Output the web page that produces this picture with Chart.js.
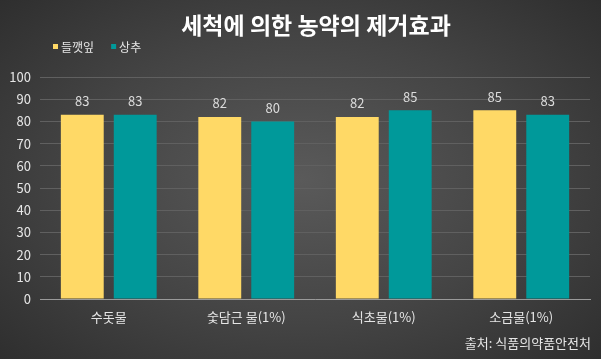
<!DOCTYPE html>
<html><head><meta charset="utf-8">
<script src="https://cdn.jsdelivr.net/npm/chart.js@4"></script>
<style>
html,body{margin:0;padding:0;width:601px;height:359px;overflow:hidden;}
body{background:radial-gradient(ellipse 75% 80% at 50% 50%, #5a5a5a 0%, #444 50%, #2a2a2a 100%);}
#wrap{position:relative;width:601px;height:359px;}
</style></head>
<body><div id="wrap"><canvas id="c" width="601" height="359"></canvas></div>
<script>
const categories = ['수돗물', '숯담근 물(1%)', '식초물(1%)', '소금물(1%)'];
const seriesNames = ['들깻잎', '상추'];
const perillaValues = [83, 82, 82, 85];
const lettuceValues = [83, 80, 85, 83];
const yTicks = [0, 10, 20, 30, 40, 50, 60, 70, 80, 90, 100];
const titleText = '세척에 의한 농약의 제거효과';
const sourceText = '출처: 식품의약품안전처';

const FONT = "'Noto Sans CJK KR', 'Noto Sans', sans-serif";
const colors = ['#FFD966', '#00999A'];

const decor = {
  id: 'decor',
  afterDatasetsDraw(chart) {
    const ctx = chart.ctx;
    ctx.save();
    // data labels
    ctx.fillStyle = '#dcdcdc';
    ctx.font = '13px ' + FONT;
    ctx.textAlign = 'center';
    ctx.textBaseline = 'bottom';
    chart.data.datasets.forEach((ds, i) => {
      chart.getDatasetMeta(i).data.forEach((bar, j) => {
        ctx.fillText(String(ds.data[j]), bar.x, bar.y - 7);
      });
    });
    // title
    ctx.fillStyle = '#ffffff';
    ctx.font = 'bold 23px ' + FONT;
    ctx.textBaseline = 'middle';
    ctx.fillText(titleText, 316, 25);
    // legend
    ctx.font = '12px ' + FONT;
    ctx.textAlign = 'left';
    let x = 53;
    chart.data.datasets.forEach((ds, i) => {
      ctx.fillStyle = ds.backgroundColor;
      ctx.fillRect(x, 44, 5, 5);
      ctx.fillStyle = '#e6e6e6';
      ctx.fillText(ds.label, x + 8, 47);
      x += 8 + ctx.measureText(ds.label).width + 17;
    });
    // source
    ctx.font = '13px ' + FONT;
    ctx.textAlign = 'right';
    ctx.fillStyle = '#e6e6e6';
    ctx.fillText(sourceText, 591, 343);
    ctx.restore();
  }
};

new Chart(document.getElementById('c'), {
  type: 'bar',
  data: {
    labels: categories,
    datasets: [
      { label: seriesNames[0], data: perillaValues, backgroundColor: colors[0] },
      { label: seriesNames[1], data: lettuceValues, backgroundColor: colors[1] }
    ]
  },
  options: {
    responsive: false,
    animation: false,
    devicePixelRatio: 1,
    layout: { padding: { top: 77, right: 11, bottom: 0, left: 0 } },
    datasets: { bar: { categoryPercentage: 0.77, barPercentage: 0.81 } },
    plugins: { legend: { display: false }, title: { display: false }, tooltip: { enabled: false } },
    scales: {
      x: {
        grid: { display: false, drawTicks: false },
        border: { color: '#9a9a9a', width: 1 },
        ticks: { color: '#e6e6e6', font: { size: 13, family: FONT }, padding: 10 },
        afterFit(s) { s.height = 60; }
      },
      y: {
        min: 0, max: 100,
        afterBuildTicks(s) { s.ticks = yTicks.map(v => ({ value: v })); },
        grid: { color: '#606060', lineWidth: 1, drawTicks: false },
        border: { display: false },
        ticks: { color: '#e6e6e6', font: { size: 13, family: FONT }, padding: 9 },
        afterFit(s) { s.width = 40; }
      }
    }
  },
  plugins: [decor]
});
</script></body></html>
